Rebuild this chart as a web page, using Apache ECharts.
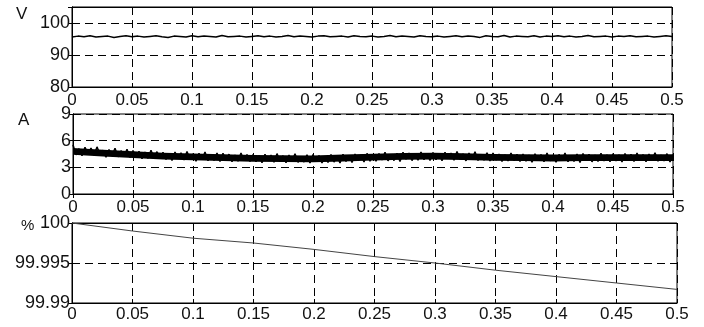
<!DOCTYPE html>
<html>
<head>
<meta charset="utf-8">
<script src="https://cdn.jsdelivr.net/npm/echarts@6/dist/echarts.min.js"></script>
<style>
  html, body { margin: 0; padding: 0; background: #fff; }
  #chart { width: 704px; height: 327px; }
</style>
</head>
<body>
<div id="chart"></div>
<script>
// time ticks shared by all three panels
const xTicks = [0, 0.05, 0.1, 0.15, 0.2, 0.25, 0.3, 0.35, 0.4, 0.45, 0.5];

// voltage (V), sampled every 0.005 s
const voltStep = 0.005;
const voltage = [
  95.6, 95.9, 95.7, 96.0, 95.6, 95.8, 95.9, 95.5, 95.8, 96.0,
  95.7, 95.9, 95.6, 95.8, 96.0, 95.7, 95.5, 95.9, 95.8, 95.6,
  96.0, 95.7, 95.9, 95.8, 95.6, 96.1, 95.7, 95.8, 95.9, 95.6,
  95.8, 96.0, 95.7, 95.9, 95.6, 95.8, 96.1, 95.7, 95.9, 95.8,
  95.6, 95.9, 96.0, 95.7, 95.8, 95.9, 95.6, 96.0, 95.8, 95.7,
  95.9, 95.6, 95.8, 96.1, 95.7, 95.9, 95.8, 95.6, 96.0, 95.8,
  95.7, 95.9, 95.6, 95.8, 96.0, 95.7, 95.9, 95.8, 95.5, 96.0,
  95.8, 95.7, 96.1, 95.6, 95.9, 95.8, 95.7, 96.0, 95.6, 95.9,
  95.8, 96.0, 95.7, 95.9, 95.6, 95.8, 96.1, 95.7, 95.8, 95.9,
  95.6, 95.9, 95.8, 96.0, 95.7, 95.8, 95.9, 95.6, 95.8, 96.0,
  95.8
];

// current (A), sampled every 0.0025 s
const currStep = 0.0025;
const current = [
  5.55, 4.40, 5.10, 4.30, 5.25, 4.52, 5.16, 4.36, 5.30, 4.45,
  4.93, 4.13, 5.00, 4.29, 5.15, 4.18, 4.87, 4.21, 5.04, 4.10,
  4.90, 4.12, 4.80, 3.96, 4.71, 4.01, 4.92, 4.06, 4.76, 3.97,
  4.69, 3.89, 4.57, 3.77, 4.72, 3.99, 4.63, 3.83, 4.79, 3.92,
  4.50, 3.70, 4.57, 3.86, 4.72, 3.75, 4.44, 3.78, 4.61, 3.67,
  4.58, 3.80, 4.48, 3.64, 4.39, 3.69, 4.60, 3.74, 4.44, 3.65,
  4.44, 3.64, 4.32, 3.52, 4.47, 3.74, 4.38, 3.58, 4.54, 3.67,
  4.31, 3.51, 4.38, 3.67, 4.53, 3.56, 4.25, 3.59, 4.42, 3.48,
  4.43, 3.65, 4.33, 3.49, 4.24, 3.54, 4.45, 3.59, 4.29, 3.50,
  4.47, 3.67, 4.35, 3.55, 4.50, 3.77, 4.41, 3.61, 4.57, 3.70,
  4.48, 3.68, 4.55, 3.84, 4.70, 3.73, 4.42, 3.76, 4.59, 3.65,
  4.70, 3.92, 4.60, 3.76, 4.51, 3.81, 4.72, 3.86, 4.56, 3.77,
  4.67, 3.87, 4.55, 3.75, 4.70, 3.97, 4.61, 3.81, 4.77, 3.90,
  4.53, 3.73, 4.60, 3.89, 4.75, 3.78, 4.47, 3.81, 4.64, 3.70,
  4.60, 3.82, 4.50, 3.66, 4.41, 3.71, 4.62, 3.76, 4.46, 3.67,
  4.50, 3.70, 4.38, 3.58, 4.53, 3.80, 4.44, 3.64, 4.60, 3.73,
  4.38, 3.58, 4.45, 3.74, 4.60, 3.63, 4.32, 3.66, 4.49, 3.55,
  4.56, 3.78, 4.46, 3.62, 4.37, 3.67, 4.58, 3.72, 4.42, 3.63,
  4.52, 3.72, 4.40, 3.60, 4.55, 3.82, 4.46, 3.66, 4.62, 3.75,
  4.43, 3.63, 4.50, 3.79, 4.65, 3.68, 4.37, 3.71, 4.54, 3.60,
  4.45
];

// dense core of the current trace, read every 0.025 s
const bandStep = 0.025;
const currBandLow = [
  4.42, 4.22, 4.04, 3.89, 3.79, 3.72, 3.64, 3.60, 3.57, 3.67, 3.77,
  3.84, 3.87, 3.82, 3.74, 3.70, 3.67, 3.70, 3.72, 3.72, 3.72
];
const currBandHigh = [
  5.18, 4.98, 4.80, 4.65, 4.55, 4.48, 4.40, 4.36, 4.33, 4.43, 4.53,
  4.60, 4.63, 4.58, 4.50, 4.46, 4.43, 4.46, 4.48, 4.48, 4.48
];

// percentage (%), read at each x tick
const percent = [
  100, 99.9990, 99.9981, 99.9975, 99.9967, 99.9958,
  99.9950, 99.9941, 99.9933, 99.9925, 99.9917
];

const voltData = voltage.map((v, i) => [i * voltStep, v]);
const currData = current.map((v, i) => [i * currStep, v]);
const bandData = currBandLow.map((v, i) => [i * bandStep, v, currBandHigh[i]]);
const pctData = percent.map((v, i) => [xTicks[i], v]);

const FONT = 'Liberation Sans';
const dash = { color: '#000', width: 1, type: [8, 5] };
const grids = [
  { left: 72, right: 32, top: 7, height: 80 },
  { left: 73, right: 31, top: 114, height: 80 },
  { left: 72, right: 27, top: 223, height: 80 }
];
const yRanges = [
  { min: 80, max: 105, interval: 10 },
  { min: 0, max: 9, interval: 3 },
  { min: 99.99, max: 100, interval: 0.005 }
];
const labelMargins = [5, 5, 3];

const xAxes = [];
const yAxes = [];
grids.forEach((g, i) => {
  xAxes.push({
    type: 'value', gridIndex: i, min: 0, max: 0.5, interval: 0.05,
    axisLine: { lineStyle: { color: '#000' } },
    axisTick: { inside: true, length: 4, lineStyle: { color: '#000' } },
    axisLabel: { color: '#111', fontFamily: FONT, fontSize: 17, margin: labelMargins[i] },
    splitLine: { show: true, lineStyle: dash }
  });
  xAxes.push({
    type: 'value', gridIndex: i, position: 'top', min: 0, max: 0.5, interval: 0.05,
    axisLine: { lineStyle: { color: '#000' } },
    axisTick: { inside: true, length: 4, lineStyle: { color: '#000' } },
    axisLabel: { show: false },
    splitLine: { show: false }
  });
  yAxes.push({
    type: 'value', gridIndex: i, ...yRanges[i],
    axisLine: { show: true, lineStyle: { color: '#000' } },
    axisTick: { show: true, inside: true, length: 4, lineStyle: { color: '#000' } },
    axisLabel: { color: '#111', fontFamily: FONT, fontSize: 18, margin: 2, showMaxLabel: i !== 0 },
    splitLine: { show: true, lineStyle: dash }
  });
  yAxes.push({
    type: 'value', gridIndex: i, position: 'right', ...yRanges[i],
    axisLine: { show: true, lineStyle: { color: '#000' } },
    axisTick: { show: true, inside: true, length: 4, lineStyle: { color: '#000' } },
    axisLabel: { show: false },
    splitLine: { show: false }
  });
});

const unitText = (text, x, y, size) => ({
  type: 'text', left: x, top: y,
  style: { text, fill: '#111', font: size + 'px "Liberation Sans"' }
});

// the solid core of the noisy current trace, as one polygon
const renderBand = (params, api) => {
  if (params.dataIndex !== 0) return null;
  const upper = bandData.map(d => api.coord([d[0], d[2]]));
  const lower = bandData.slice().reverse().map(d => api.coord([d[0], d[1]]));
  return {
    type: 'polygon',
    shape: { points: upper.concat(lower) },
    style: { fill: '#000' }
  };
};

const option = {
  animation: false,
  backgroundColor: '#fff',
  grid: grids.map(g => ({ ...g, show: true, borderColor: '#000', borderWidth: 1 })),
  xAxis: xAxes,
  yAxis: yAxes,
  graphic: [
    unitText('V', 16, 6, 17),
    unitText('A', 18, 112, 17),
    unitText('%', 21, 218, 15)
  ],
  series: [
    {
      type: 'line', xAxisIndex: 0, yAxisIndex: 0, data: voltData,
      showSymbol: false, lineStyle: { color: '#000', width: 1.5 }
    },
    {
      type: 'custom', xAxisIndex: 2, yAxisIndex: 2, data: bandData,
      encode: { x: 0, y: [1, 2] }, renderItem: renderBand
    },
    {
      type: 'line', xAxisIndex: 2, yAxisIndex: 2, data: currData,
      showSymbol: false, lineStyle: { color: '#000', width: 1.5 }
    },
    {
      type: 'line', xAxisIndex: 4, yAxisIndex: 4, data: pctData,
      showSymbol: false, lineStyle: { color: '#444', width: 1 }
    }
  ]
};

const chart = echarts.init(document.getElementById('chart'));
chart.setOption(option);
</script>
</body>
</html>
